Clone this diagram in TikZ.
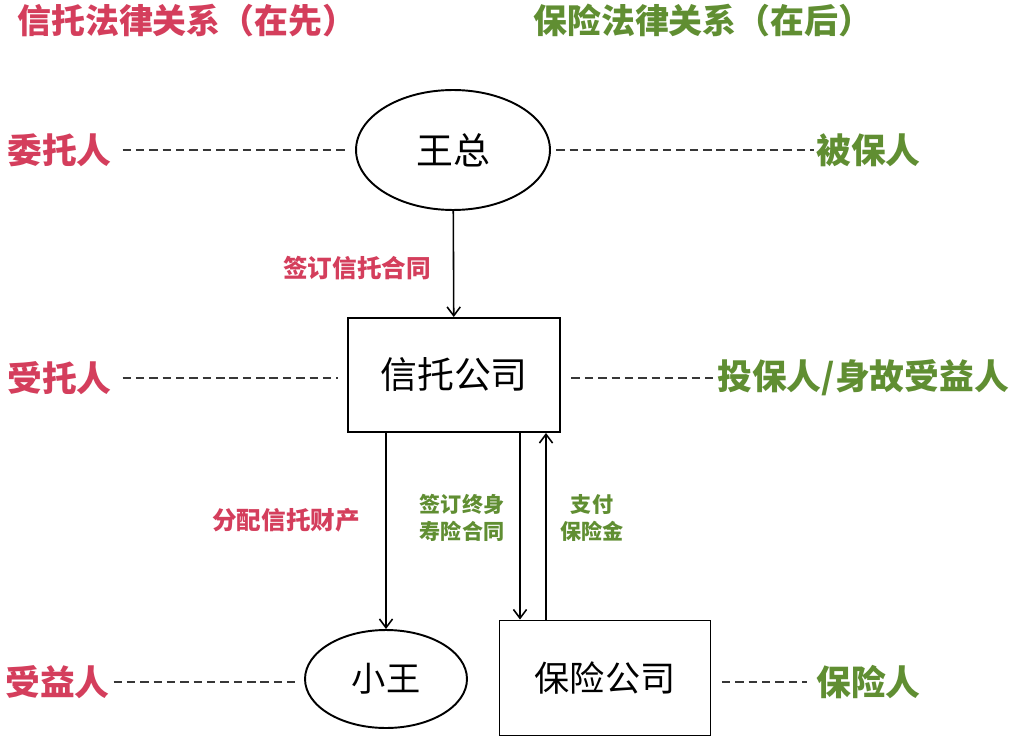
\documentclass[tikz,border=0pt]{standalone}
\usepackage{fontspec}
\setmainfont{Noto Sans CJK SC}
\usetikzlibrary{positioning,shapes.geometric,arrows.meta}
\definecolor{trustred}{RGB}{212,62,92}
\definecolor{insgreen}{RGB}{96,142,50}
\definecolor{dashgray}{RGB}{55,55,55}

\begin{document}
\begin{tikzpicture}[x=0.02cm,y=-0.02cm,
  title/.style={anchor=west,inner sep=0pt,font=\fontsize{19.3}{20}\selectfont\bfseries},
  role/.style={inner sep=0pt,font=\fontsize{19.8}{20}\selectfont\bfseries},
  party/.style={draw,line width=1.1pt,inner sep=0pt,font=\fontsize{21}{22}\selectfont},
  oval/.style={party,ellipse},
  firm/.style={party,rectangle},
  act/.style={inner sep=0pt,align=center,font=\fontsize{12}{15.3}\selectfont\bfseries},
  arr/.style={-{Straight Barb[length=5pt,width=7.5pt,line width=0.9pt]},line width=0.9pt},
  link/.style={dashgray,line width=0.8pt,dash pattern=on 4.8pt off 2.8pt,shorten <=6pt,shorten >=5pt}]
\useasboundingbox[fill=white] (0,0) rectangle (1024,743);

% titles
\node[title,trustred] (ttrust) at (17,21) {信托法律关系（在先）};
\node[title,insgreen] (tins) at (533,21) {保险法律关系（在后）};

% parties
\node[oval,minimum width=3.88cm,minimum height=2.4cm] (wang) at (453,150) {王总};
\node[firm,minimum width=4.24cm,minimum height=2.28cm] (trust) at (454,375) {信托公司};
\node[oval,minimum width=3.24cm,minimum height=1.96cm,font=\fontsize{19.5}{20}\selectfont] (xiao) at (386,679) {小王};
\node[firm,minimum width=4.22cm,minimum height=2.3cm,font=\fontsize{20}{22}\selectfont] (ins) at (605,678) {保险公司};

% roles, left side
\node[role,trustred,anchor=west] (settlor) at (7,150) {委托人};
\node[role,trustred,anchor=west] (trustee) at (7,378) {受托人};
\node[role,trustred,anchor=west] (benef) at (5,682) {受益人};
% roles, right side
\node[role,insgreen,anchor=west] (insured) at (816,150) {被保人};
\node[role,insgreen,anchor=west] (holder) at (717,378) {投保人/身故受益人};
\node[role,insgreen,anchor=west] (insurer) at (816,682) {保险人};

\draw[link] (settlor) -- (wang);
\draw[link] (trustee) -- (trustee -| trust.west);
\draw[link,shorten <=2pt] (benef) -- (benef -| xiao.west);
\draw[link,shorten <=3pt,shorten >=1pt] (wang) -- (insured);
\draw[link,shorten >=1pt] (holder -| trust.east) -- (holder);
\draw[link] (insurer -| ins.east) -- (insurer);

% contracts and flows
\draw[arr] (wang) -- (trust);
\node[act,trustred,font=\fontsize{14}{16}\selectfont\bfseries] (signtrust) at (357,268) {签订信托合同};

\draw[arr] (trust.south -| xiao) -- (xiao);
\node[act,trustred,font=\fontsize{14}{16}\selectfont\bfseries] (share) at (286,520) {分配信托财产};

\draw[arr] (trust.south -| 520,0) -- (ins.north -| 520,0);
\draw[arr] (ins.north -| 546,0) -- (trust.south -| 546,0);
\node[act,insgreen] (signins) at (462,518) {签订终身\\寿险合同};
\node[act,insgreen] (pay) at (592,518) {支付\\保险金};
\end{tikzpicture}
\end{document}
